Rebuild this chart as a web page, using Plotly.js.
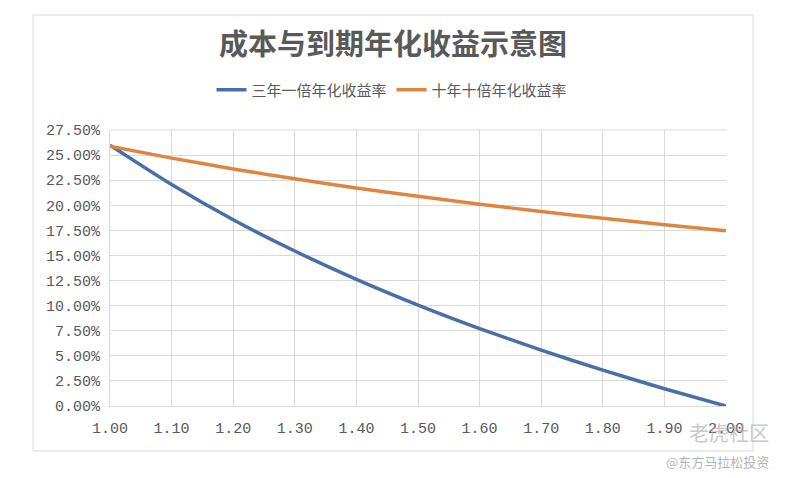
<!DOCTYPE html>
<html>
<head>
<meta charset="utf-8">
<script src="https://cdn.plot.ly/plotly-3.0.1.min.js"></script>
<style>
  html, body { margin: 0; padding: 0; background: #fff; }
  #chart { width: 786px; height: 478px; }
</style>
</head>
<body>
<div id="chart"></div>
<script>
// cost multiple (x axis)
const cost = [1.00, 1.10, 1.20, 1.30, 1.40, 1.50, 1.60, 1.70, 1.80, 1.90, 2.00];
// annualized return, %
const threeYearDouble = [25.99, 22.07, 18.56, 15.44, 12.62, 10.06, 7.72, 5.57, 3.57, 1.72, 0.00];
const tenYearTenfold = [25.89, 24.70, 23.62, 22.64, 21.73, 20.89, 20.11, 19.38, 18.71, 18.07, 17.46];

const seriesNames = ['三年一倍年化收益率', '十年十倍年化收益率'];
const chartTitle = '成本与到期年化收益示意图';

const xTicks = cost;
const xTickText = cost.map(v => v.toFixed(2));
const yTicks = [0, 2.5, 5, 7.5, 10, 12.5, 15, 17.5, 20, 22.5, 25, 27.5];
const yTickText = yTicks.map(v => v.toFixed(2) + '%');

const GRID = '#d9d9d9';
const INK = '#595959';
const TICK_FONT = { family: 'Liberation Mono, monospace', size: 15, color: INK };

// paper coords helpers (plot area is 110..726 px wide, 130..406 px tall)
const px = x => (x - 110) / 616;
const py = y => (406 - y) / 276;

const traces = [
  {
    type: 'scatter', mode: 'lines', name: seriesNames[0],
    x: cost, y: threeYearDouble,
    line: { color: '#4a6ea8', width: 3.5, shape: 'spline', smoothing: 0.6 },
  },
  {
    type: 'scatter', mode: 'lines', name: seriesNames[1],
    x: cost, y: tenYearTenfold,
    line: { color: '#de8542', width: 3.5, shape: 'spline', smoothing: 0.6 },
  },
];

const layout = {
  width: 786, height: 478,
  paper_bgcolor: '#fff', plot_bgcolor: '#fff',
  margin: { l: 110, r: 60, t: 130, b: 72 },
  font: { family: 'Noto Sans CJK SC, sans-serif', color: INK },
  title: {
    text: '<b>' + chartTitle + '</b>',
    x: px(393), xref: 'paper', xanchor: 'center',
    y: 1 - 45 / 478, yanchor: 'middle',
    font: { family: 'Noto Sans CJK SC, sans-serif', size: 29, color: INK },
  },
  showlegend: true,
  legend: {
    orientation: 'h', x: px(392), xanchor: 'center', y: py(90), yanchor: 'middle',
    font: { family: 'Noto Sans CJK SC, sans-serif', size: 15, color: INK },
  },
  xaxis: {
    range: [1.0, 2.0], tickvals: xTicks, ticktext: xTickText,
    showgrid: true, gridcolor: GRID, gridwidth: 1,
    showline: true, linecolor: GRID, zeroline: false,
    ticks: '', tickfont: TICK_FONT, ticklabelstandoff: 8, fixedrange: true,
  },
  yaxis: {
    range: [0, 27.5], tickvals: yTicks, ticktext: yTickText,
    showgrid: true, gridcolor: GRID, gridwidth: 1,
    showline: true, linecolor: GRID, zeroline: false,
    ticks: '', tickfont: TICK_FONT, ticklabelstandoff: 6, fixedrange: true,
  },
  shapes: [
    // outer chart border
    {
      type: 'rect', xref: 'paper', yref: 'paper', layer: 'below',
      x0: px(33), x1: px(753), y0: py(451), y1: py(15),
      line: { color: '#d9d9d9', width: 1 }, fillcolor: 'rgba(0,0,0,0)',
    },
    // top grid line
    {
      type: 'line', xref: 'paper', yref: 'paper', x0: 0, x1: 1, y0: 1, y1: 1,
      line: { color: GRID, width: 1 },
    },
  ],
  annotations: [
    {
      xref: 'paper', yref: 'paper', x: px(771), y: py(432),
      xanchor: 'right', yanchor: 'middle', showarrow: false,
      text: '老虎社区', font: { family: 'Noto Sans CJK SC, sans-serif', size: 20, color: 'rgba(175,175,175,0.7)' },
    },
    {
      xref: 'paper', yref: 'paper', x: px(771), y: py(461),
      xanchor: 'right', yanchor: 'middle', showarrow: false,
      text: '@东方马拉松投资', font: { family: 'Noto Sans CJK SC, sans-serif', size: 13, color: 'rgba(165,165,165,0.85)' },
    },
  ],
};

Plotly.newPlot('chart', traces, layout, { displayModeBar: false, staticPlot: true });
</script>
</body>
</html>
